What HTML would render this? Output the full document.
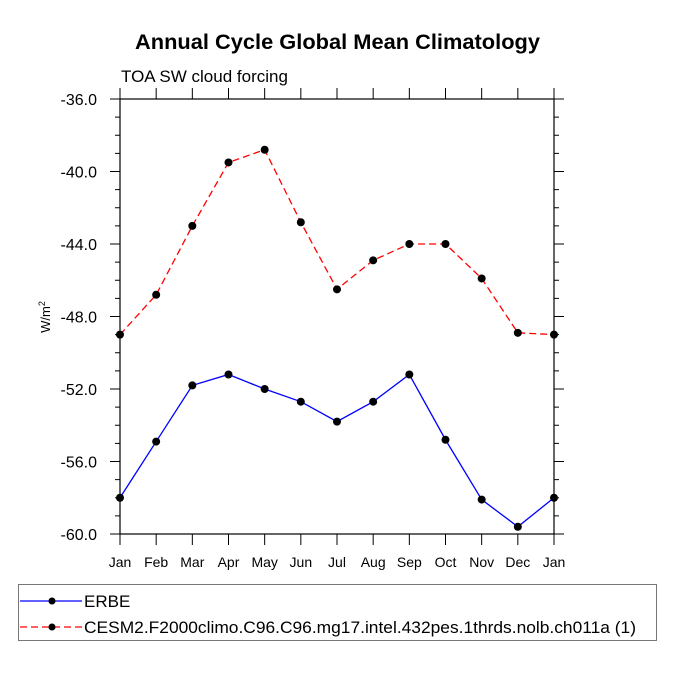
<!DOCTYPE html>
<html><head><meta charset="utf-8"><style>
body{margin:0;background:#fff}
svg{display:block;font-family:"Liberation Sans",sans-serif}
</style></head><body>
<svg id="chart" width="675" height="675" viewBox="0 0 675 675">
<text x="135" y="49" font-size="21" font-weight="bold" textLength="405" lengthAdjust="spacingAndGlyphs">Annual Cycle Global Mean Climatology</text>
<text x="121" y="82" font-size="17">TOA SW cloud forcing</text>
<text transform="translate(50,317) rotate(-90)" text-anchor="middle" font-size="13">W/m<tspan dy="-5" font-size="9">2</tspan></text>
<g id="axes"></g>
<g id="series"></g>
<rect x="18.5" y="584.5" width="638" height="56" fill="none" stroke="#777" stroke-width="1"/>
<g>
<line x1="20" y1="601" x2="82" y2="601" stroke="#0000ff" stroke-width="1.3"/>
<circle cx="52" cy="601" r="3.5"/>
<text x="84" y="607" font-size="17">ERBE</text>
</g>
<g>
<line x1="20" y1="627" x2="82" y2="627" stroke="#ff0000" stroke-width="1.3" stroke-dasharray="7,4"/>
<circle cx="52" cy="627" r="3.5"/>
<text x="84" y="633" font-size="17" textLength="552" lengthAdjust="spacingAndGlyphs">CESM2.F2000climo.C96.C96.mg17.intel.432pes.1thrds.nolb.ch011a (1)</text>
</g>
</svg>
<script>
const months=["Jan","Feb","Mar","Apr","May","Jun","Jul","Aug","Sep","Oct","Nov","Dec","Jan"];
const erbe=[-58.0,-54.9,-51.8,-51.2,-52.0,-52.7,-53.8,-52.7,-51.2,-54.8,-58.1,-59.6,-58.0];
const cesm=[-49.0,-46.8,-43.0,-39.5,-38.8,-42.8,-46.5,-44.9,-44.0,-44.0,-45.9,-48.9,-49.0];
const yTicks=[-36,-40,-44,-48,-52,-56,-60];
const X0=120,X1=554,Y0=99,Y1=534,YMAX=-36,YMIN=-60;
const xs=i=>X0+(X1-X0)*i/(months.length-1);
const ys=v=>Y0+(YMAX-v)/(YMAX-YMIN)*(Y1-Y0);
const NS="http://www.w3.org/2000/svg";
function mk(tag,attrs,parent){const e=document.createElementNS(NS,tag);for(const k in attrs)e.setAttribute(k,attrs[k]);parent.appendChild(e);return e;}
const ax=document.getElementById('axes');
const frame=mk('rect',{x:X0,y:Y0,width:X1-X0,height:Y1-Y0,fill:'none',stroke:'#000','stroke-width':1.2},ax);


for(let v=YMAX;v>=YMIN;v--){
  const major=yTicks.includes(v);const L=major?10:5;const y=ys(v);
  const t1=mk('line',{x1:X0-L,y1:y,x2:X0,y2:y,stroke:'#000','stroke-width':1},ax);
  
  
  const t2=mk('line',{x1:X1,y1:y,x2:X1+L,y2:y,stroke:'#000','stroke-width':1},ax);
  
  
  if(major){
    const tx=mk('text',{x:X0-23,y:y+6,'text-anchor':'end','font-size':16},ax);
    tx.textContent=v.toFixed(1);
    
    
  }
}
months.forEach((m,i)=>{
  const x=xs(i);
  const t1=mk('line',{x1:x,y1:Y1,x2:x,y2:Y1+11,stroke:'#000','stroke-width':1},ax);
  
  
  const t2=mk('line',{x1:x,y1:Y0-11,x2:x,y2:Y0,stroke:'#000','stroke-width':1},ax);
  
  
  const tx=mk('text',{x:x,y:567,'text-anchor':'middle','font-size':14},ax);
  tx.textContent=m;
  
  
});
const sg=document.getElementById('series');
function draw(vals,color,dash,name){
  const g=mk('g',{},sg);
  
  
  const pts=vals.map((v,i)=>xs(i)+','+ys(v)).join(' ');
  const pl=mk('polyline',{points:pts,fill:'none',stroke:color,'stroke-width':1.3,'stroke-dasharray':dash},g);
  
  
  vals.forEach((v,i)=>{
    const c=mk('circle',{cx:xs(i),cy:ys(v),r:4},g);
    
    
  });
}
draw(cesm,'#ff0000','7,4','series-cesm2');
draw(erbe,'#0000ff','none','series-erbe');
</script>
</body></html>
